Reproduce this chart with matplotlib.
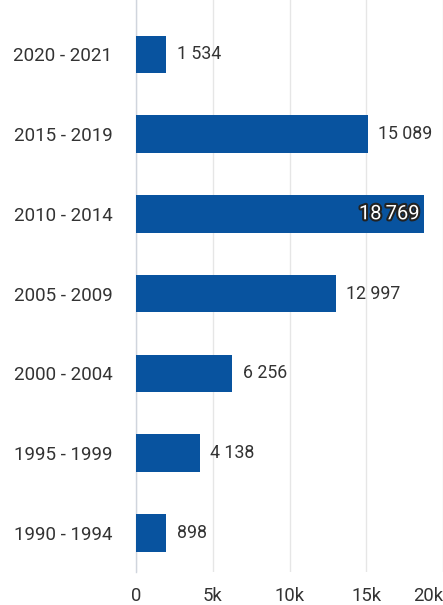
import matplotlib.pyplot as plt
import matplotlib.patheffects as pe

plt.rcParams['font.family'] = ['Roboto', 'DejaVu Sans']

periods = ['2020 - 2021', '2015 - 2019', '2010 - 2014', '2005 - 2009',
           '2000 - 2004', '1995 - 1999', '1990 - 1994']
counts = [1534, 15089, 18769, 12997, 6256, 4138, 898]
xticks = [0, 5000, 10000, 15000, 20000]
xticklabels = ['0', '5k', '10k', '15k', '20k']

bar_color = '#08539f'
text_color = '#333333'
min_len = 1950  # bars are drawn at least this long, like the source chart

fig = plt.figure(figsize=(4.43, 6.05), dpi=100)
ax = fig.add_axes([136 / 443, 1 - 572 / 605, 1 - 136 / 443, 572 / 605])

ypos = list(range(len(periods)))
widths = [max(c, min_len) for c in counts]
ax.barh(ypos, widths, height=0.47, color=bar_color, zorder=3)

for y, w, c in zip(ypos, widths, counts):
    label = f'{c:,}'.replace(',', '\u2009')
    if w > 17000:
        ax.text(w - 300, y, label, ha='right', va='center', fontsize=14.5,
                color='white', zorder=4,
                path_effects=[pe.withStroke(linewidth=3, foreground='#222222')])
    else:
        ax.text(w + 700, y, f'{c:,}'.replace(',', ' '), ha='left', va='center',
                fontsize=12.8, color=text_color, zorder=4)

ax.set_xlim(0, 20000)
ax.set_ylim(6.49, -0.68)
ax.set_xticks(xticks)
ax.set_xticklabels(xticklabels)
ax.set_yticks(ypos)
ax.set_yticklabels(periods)
ax.tick_params(axis='x', length=0, pad=11, labelsize=13.3, labelcolor=text_color)
ax.tick_params(axis='y', length=0, pad=17, labelsize=13.5, labelcolor=text_color)
ax.get_xticklabels()[-1].set_horizontalalignment('right')

ax.grid(axis='x', color='#e6e6e6', linewidth=1, zorder=0)
for side in ['top', 'right', 'bottom']:
    ax.spines[side].set_visible(False)
ax.spines['left'].set_color('#d0d5dd')
ax.spines['left'].set_linewidth(1)

fig.savefig('out.png', dpi=100)
